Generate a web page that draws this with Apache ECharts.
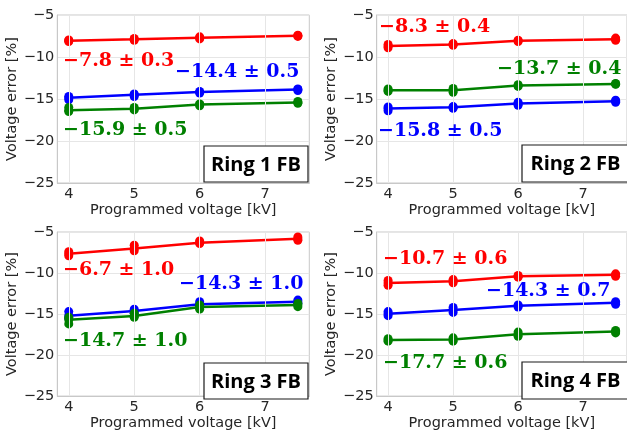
<!DOCTYPE html>
<html><head><meta charset="utf-8">
<script src="https://cdn.jsdelivr.net/npm/echarts@6/dist/echarts.min.js"></script>
<style>html,body{margin:0;padding:0;background:#fff}#c{width:627px;height:432px}</style>
</head><body><div id="c"></div>
<script>
// ---------------- data ----------------
const xValues = [4, 5, 6, 7.5];
const xTickValues = [4, 5, 6, 7];
const yTickValues = [-25, -20, -15, -10, -5];
const panelTitles = ['Ring 1 FB', 'Ring 2 FB', 'Ring 3 FB', 'Ring 4 FB'];
const xAxisTitle = 'Programmed voltage [kV]';
const yAxisTitle = 'Voltage error [%]';

// each entry per x: [lowest dot, line value, highest dot]
const ring1Red   = [[-8.15, -8.06, -7.98], [-8.0, -7.9, -7.8], [-7.85, -7.7, -7.6], [-7.55, -7.47, -7.4]];
const ring1Blue  = [[-15.1, -14.86, -14.7], [-14.7, -14.5, -14.4], [-14.3, -14.18, -14.1], [-14.0, -13.87, -13.8]];
const ring1Green = [[-16.5, -16.33, -16.0], [-16.3, -16.17, -16.0], [-15.8, -15.66, -15.6], [-15.5, -15.42, -15.3]];

const ring2Red   = [[-8.9, -8.7, -8.5], [-8.6, -8.5, -8.4], [-8.15, -8.06, -8.0], [-8.0, -7.9, -7.75]];
const ring2Blue  = [[-16.4, -16.13, -15.95], [-16.1, -15.97, -15.9], [-15.75, -15.53, -15.4], [-15.4, -15.26, -15.15]];
const ring2Green = [[-14.1, -13.95, -13.8], [-14.2, -13.95, -13.75], [-13.5, -13.4, -13.3], [-13.25, -13.2, -13.15]];

const ring3Red   = [[-7.9, -7.66, -7.4], [-7.3, -7.0, -6.6], [-6.4, -6.3, -6.1], [-6.0, -5.82, -5.6]];
const ring3Blue  = [[-15.5, -15.2, -14.7], [-14.9, -14.62, -14.4], [-14.0, -13.8, -13.5], [-13.7, -13.5, -13.3]];
const ring3Green = [[-16.2, -15.68, -15.4], [-15.4, -15.25, -14.9], [-14.4, -14.15, -13.9], [-14.1, -13.9, -13.7]];

const ring4Red   = [[-11.5, -11.22, -10.9], [-11.2, -11.0, -10.8], [-10.5, -10.38, -10.3], [-10.4, -10.22, -10.1]];
const ring4Blue  = [[-15.2, -14.96, -14.7], [-14.8, -14.5, -14.2], [-14.15, -14.0, -13.9], [-13.8, -13.63, -13.5]];
const ring4Green = [[-18.3, -18.17, -18.0], [-18.3, -18.1, -17.9], [-17.7, -17.45, -17.2], [-17.3, -17.13, -17.0]];

// summary annotations, per ring: [red, blue, green]
const ring1Labels = ['\u22127.8 \u00b1 0.3', '\u221214.4 \u00b1 0.5', '\u221215.9 \u00b1 0.5'];
const ring2Labels = ['\u22128.3 \u00b1 0.4', '\u221215.8 \u00b1 0.5', '\u221213.7 \u00b1 0.4'];
const ring3Labels = ['\u22126.7 \u00b1 1.0', '\u221214.3 \u00b1 1.0', '\u221214.7 \u00b1 1.0'];
const ring4Labels = ['\u221210.7 \u00b1 0.6', '\u221214.3 \u00b1 0.7', '\u221217.7 \u00b1 0.6'];

// ---------------- styling / layout ----------------
const COLORS = ['#ff0000', '#0000ff', '#008000'];
const panels = [
  { data: [ring1Red, ring1Blue, ring1Green], labels: ring1Labels },
  { data: [ring2Red, ring2Blue, ring2Green], labels: ring2Labels },
  { data: [ring3Red, ring3Blue, ring3Green], labels: ring3Labels },
  { data: [ring4Red, ring4Blue, ring4Green], labels: ring4Labels }
];
const gridRects = [
  { left: 57.3, top: 15, width: 252, height: 168 },
  { left: 376.7, top: 15, width: 252, height: 168 },
  { left: 57.3, top: 232, width: 252, height: 168 },
  { left: 376.7, top: 232, width: 252, height: 168 }
];
// annotation anchors (left x, middle y), order: red, blue, green
const annoPos = [
  [[63, 61], [175, 72], [63, 130]],
  [[379, 27], [378, 131], [497, 69]],
  [[63, 270], [179, 284], [63, 341]],
  [[383, 259], [486, 291], [383, 363]]
];
const boxPos = [
  [204, 146, 104, 36],
  [522, 145, 110, 37],
  [204, 363, 104, 36],
  [522, 362, 110, 37]
];

const minusFmt = v => (v < 0 ? '\u2212' + Math.abs(v) : String(v));
const tickFont = { fontFamily: 'DejaVu Sans', fontSize: 14.5, color: '#262626' };

const grids = [], xAxes = [], yAxes = [], series = [], graphics = [];
panels.forEach((p, i) => {
  grids.push(Object.assign({ show: true, borderColor: '#c8c8c8', borderWidth: 1, backgroundColor: 'transparent', containLabel: false }, gridRects[i]));
  xAxes.push({
    type: 'value', gridIndex: i, min: 3.825, max: 7.675,
    name: xAxisTitle, nameLocation: 'middle', nameGap: 14.5,
    nameTextStyle: { fontFamily: 'DejaVu Sans', fontSize: 14.5, color: '#262626' },
    axisLine: { show: true, lineStyle: { color: '#c8c8c8', width: 1 } },
    axisTick: { show: false, customValues: xTickValues },
    axisLabel: Object.assign({ customValues: xTickValues, margin: 4, formatter: minusFmt }, tickFont),
    splitLine: { show: false }
  });
  yAxes.push({
    type: 'value', gridIndex: i, min: yTickValues[0], max: yTickValues[yTickValues.length - 1], interval: 5,
    name: yAxisTitle, nameLocation: 'middle', nameGap: 32, nameRotate: 90,
    nameTextStyle: { fontFamily: 'DejaVu Sans', fontSize: 14.5, color: '#262626' },
    axisLine: { show: true, lineStyle: { color: '#c8c8c8', width: 1 } },
    axisTick: { show: false },
    axisLabel: Object.assign({ margin: 3, formatter: minusFmt }, tickFont),
    splitLine: { show: true, lineStyle: { color: '#e6e6e6', width: 1 } }
  });
  // vertical grid lines at the x ticks
  series.push({
    type: 'line', xAxisIndex: i, yAxisIndex: i, data: [], z: 1, silent: true,
    markLine: {
      silent: true, symbol: 'none', animation: false, label: { show: false },
      lineStyle: { color: '#e6e6e6', width: 1, type: 'solid' },
      data: xTickValues.map(v => ({ xAxis: v }))
    }
  });
  p.data.forEach((d, k) => {
    series.push({
      type: 'line', xAxisIndex: i, yAxisIndex: i, z: 3, silent: true,
      showSymbol: false, lineStyle: { color: COLORS[k], width: 2.5 },
      data: d.map((t, j) => [xValues[j], t[1]])
    });
    const pts = [];
    d.forEach((t, j) => { pts.push([xValues[j], t[0]]); pts.push([xValues[j], t[1]]); pts.push([xValues[j], t[2]]); });
    series.push({
      type: 'scatter', xAxisIndex: i, yAxisIndex: i, z: 4, silent: true,
      symbol: 'circle', symbolSize: 9, itemStyle: { color: COLORS[k], opacity: 1 },
      data: pts
    });
  });
  p.labels.forEach((s, k) => {
    graphics.push({
      type: 'text', x: annoPos[i][k][0], y: annoPos[i][k][1], z: 10,
      style: { text: s, fill: COLORS[k], font: 'bold 19px "DejaVu Serif"', align: 'left', verticalAlign: 'middle' }
    });
  });
  const b = boxPos[i];
  graphics.push({
    type: 'rect', z: 10, shape: { x: b[0], y: b[1], width: b[2], height: b[3] },
    style: { fill: '#ffffff', stroke: '#1a1a1a', lineWidth: 1.2 }
  });
  graphics.push({
    type: 'text', z: 11, x: (i % 2 === 0) ? b[0] + b[2] / 2 : 575.5, y: b[1] + b[3] / 2 + 1,
    style: { text: panelTitles[i], fill: '#000', font: 'bold 20px "Open Sans"', align: 'center', verticalAlign: 'middle' }
  });
});

const chart = echarts.init(document.getElementById('c'), null, { renderer: 'canvas' });
chart.setOption({
  animation: false,
  grid: grids, xAxis: xAxes, yAxis: yAxes, series: series, graphic: graphics
});
</script></body></html>
